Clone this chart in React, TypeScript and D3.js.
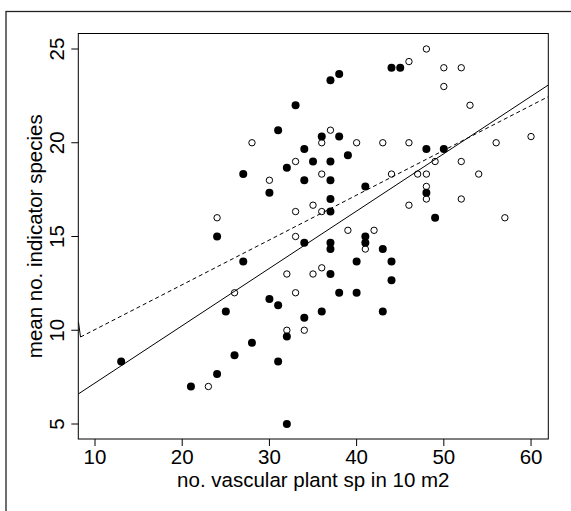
import React from "react";
import * as d3 from "d3";

// Filled circles (group 1)
const filledX = [33, 31, 34, 32, 27, 34, 30, 44, 45, 37, 38, 36, 38, 48, 50, 39, 35, 37, 37, 41, 48, 37, 37, 49, 24, 41, 34, 37, 41, 37, 43, 27, 40, 44, 37, 44, 38, 40, 30, 31, 25, 36, 43, 34, 32, 28, 26, 13, 31, 24, 21, 32];
const filledY = [22, 20.67, 19.67, 18.67, 18.33, 18, 17.33, 24, 24, 23.33, 23.67, 20.33, 20.33, 19.67, 19.67, 19.33, 19, 19, 18, 17.67, 17.33, 17, 16.33, 16, 15, 15, 14.67, 14.67, 14.67, 14.33, 14.33, 13.67, 13.67, 13.67, 13, 12.67, 12, 12, 11.67, 11.33, 11, 11, 11, 10.67, 9.67, 9.33, 8.67, 8.33, 8.33, 7.67, 7, 5];

// Open circles (group 2)
const openX = [28, 33, 30, 33, 24, 48, 46, 50, 52, 50, 53, 37, 36, 40, 43, 46, 56, 60, 49, 52, 36, 44, 47, 48, 54, 48, 48, 52, 35, 36, 46, 57, 39, 42, 41, 33, 32, 35, 36, 26, 33, 32, 34, 23];
const openY = [20, 19, 18, 16.33, 16, 25, 24.33, 24, 24, 23, 22, 20.67, 20, 20, 20, 20, 20, 20.33, 19, 19, 18.33, 18.33, 18.33, 18.33, 18.33, 17.67, 17, 17, 16.67, 16.33, 16.67, 16, 15.33, 15.33, 14.33, 15, 13, 13, 13.33, 12, 12, 10, 10, 7];

// Fitted lines
const solidLineX = [8.08, 61.98];
const solidLineY = [6.6, 23.08];
const dashedLineX = [8.1, 8.34, 61.98];
const dashedLineY = [10.46, 9.64, 22.46];

const xTicks = [10, 20, 30, 40, 50, 60];
const yTicks = [5, 10, 15, 20, 25];
const xTitle = "no. vascular plant sp in 10 m2";
const yTitle = "mean no. indicator species";

const W = 571;
const H = 511;
const L = 78.3, R = 548.3, T = 33.5, B = 439;

export default function App() {
  const x = d3.scaleLinear().domain([8.085, 61.98]).range([L, R]);
  const y = d3.scaleLinear().domain([4.2, 25.827]).range([B, T]);
  const font = "'Liberation Sans', Arial, Helvetica, sans-serif";

  const solidPath = d3.line<number>()
    .x((_, i) => x(solidLineX[i]))
    .y((d) => y(d))(solidLineY) as string;
  const dashedMain = d3.line<number>()
    .x((_, i) => x(dashedLineX[i + 1]))
    .y((d) => y(d))(dashedLineY.slice(1)) as string;
  const dashedJag = d3.line<number>()
    .x((_, i) => x(dashedLineX[i]))
    .y((d) => y(d))(dashedLineY.slice(0, 2)) as string;

  return (
    <svg width={W} height={H} style={{ position: "absolute", left: 0, top: 0, background: "#fff" }} fontFamily={font}>
      <rect x={0} y={0} width={W} height={H} fill="#fff" />
      <rect x={6} y={11.5} width={700} height={700} fill="none" stroke="#222" strokeWidth={1.3} />
      <defs>
        <clipPath id="plotclip">
          <rect x={L} y={T} width={R - L} height={B - T} />
        </clipPath>
      </defs>
      <g clipPath="url(#plotclip)">
        <path d={solidPath} fill="none" stroke="#000" strokeWidth={1} />
        <path d={dashedMain} fill="none" stroke="#000" strokeWidth={1} strokeDasharray="4,3" />
        <path d={dashedJag} fill="none" stroke="#000" strokeWidth={1} />
      </g>
      {openX.map((v, i) => (
        <circle key={"o" + i} cx={x(v)} cy={y(openY[i])} r={3.2} fill="none" stroke="#000" strokeWidth={1} />
      ))}
      {filledX.map((v, i) => (
        <circle key={"f" + i} cx={x(v)} cy={y(filledY[i])} r={4} fill="#000" />
      ))}
      <rect x={L} y={T} width={R - L} height={B - T} fill="none" stroke="#000" strokeWidth={1} />
      {xTicks.map((t) => (
        <g key={"xt" + t}>
          <line x1={x(t)} x2={x(t)} y1={B} y2={B + 7} stroke="#000" strokeWidth={1} />
          <text x={x(t)} y={464} textAnchor="middle" fontSize={20.5} fill="#000">{t}</text>
        </g>
      ))}
      {yTicks.map((t) => (
        <g key={"yt" + t}>
          <line x1={L - 7} x2={L} y1={y(t)} y2={y(t)} stroke="#000" strokeWidth={1} />
          <text transform={`translate(64,${y(t)}) rotate(-90)`} textAnchor="middle" fontSize={20.5} fill="#000">{t}</text>
        </g>
      ))}
      <text x={(L + R) / 2} y={487} textAnchor="middle" fontSize={20.5} fill="#000">{xTitle}</text>
      <text transform={`translate(42,${(T + B) / 2}) rotate(-90)`} textAnchor="middle" fontSize={20.5} fill="#000">{yTitle}</text>
    </svg>
  );
}
